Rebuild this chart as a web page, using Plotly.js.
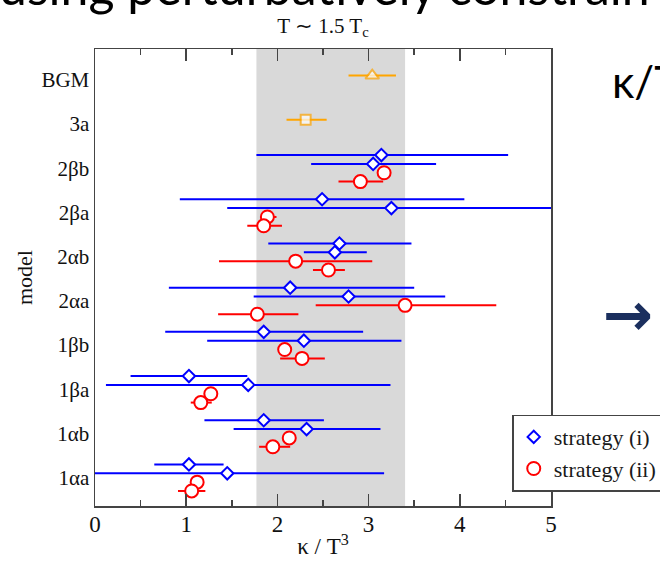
<!DOCTYPE html>
<html>
<head>
<meta charset="utf-8">
<script src="https://cdn.plot.ly/plotly-3.0.1.min.js"></script>
<style>
html,body{margin:0;padding:0;background:#fff;}
#chart{width:660px;height:565px;}
</style>
</head>
<body>
<div id="chart"></div>
<script>
// ---- data ----
const models = ['1αa','1αb','1βa','1βb','2αa','2αb','2βa','2βb','3a','BGM'];

// strategy (i), first fit (upper diamond in each row)
const s1aModels = ['1αa','1αb','1βa','1βb','2αa','2αb','2βa','2βb'];
const s1aVal = [1.03, 1.85, 1.03, 1.85, 2.14, 2.68, 2.49, 3.14];
const s1aLo  = [0.65, 1.20, 0.39, 0.77, 0.81, 1.90, 0.93, 1.77];
const s1aHi  = [1.41, 2.51, 1.67, 2.94, 3.50, 3.47, 4.05, 4.53];

// strategy (i), second fit (lower diamond)
const s1bModels = ['1αa','1αb','1βa','1βb','2αa','2αb','2βa','2βb'];
const s1bVal = [1.45, 2.32, 1.68, 2.29, 2.78, 2.63, 3.25, 3.05];
const s1bLo  = [-0.20, 1.52, 0.12, 1.23, 1.74, 2.29, 1.45, 2.37];
const s1bHi  = [3.17, 3.13, 3.24, 3.36, 3.84, 2.98, 5.30, 3.74];

// strategy (ii), first fit (upper circle)
const s2aModels = ['1αa','1αb','1βa','1βb','2αa','2αb','2βa','2βb'];
const s2aVal = [1.12, 2.13, 1.27, 2.08, 3.40, 2.20, 1.89, 3.17];
const s2aLo  = [1.05, 2.06, 1.20, 2.02, 2.42, 1.36, 1.83, 3.11];
const s2aHi  = [1.18, 2.20, 1.33, 2.14, 4.40, 3.04, 1.99, 3.23];

// strategy (ii), second fit (lower circle)
const s2bModels = ['1αa','1αb','1βa','1βb','2αa','2αb','2βa','2βb'];
const s2bVal = [1.06, 1.95, 1.16, 2.27, 1.78, 2.56, 1.85, 2.91];
const s2bLo  = [0.91, 1.80, 1.05, 2.03, 1.35, 2.39, 1.67, 2.67];
const s2bHi  = [1.21, 2.14, 1.28, 2.52, 2.23, 2.74, 2.05, 3.16];

// reference results
const refModels = ['3a','BGM'];
const refVal = [2.31, 3.04];
const refLo  = [2.10, 2.78];
const refHi  = [2.54, 3.30];

// shaded band
const bandLo = 1.77;
const bandHi = 3.40;

const xTicks = [0, 1, 2, 3, 4, 5];

// ---- build ----
const BLUE = '#0000ff', RED = '#ff0000', ORANGE = '#ffa500';
const serif = 'Liberation Serif, Times New Roman, serif';

function ypos(list, off){ return list.map(m => models.indexOf(m) + off); }
function err(val, lo, hi, color){
  return {type:'data', symmetric:false,
    array: val.map((v,i)=>hi[i]-v), arrayminus: val.map((v,i)=>v-lo[i]),
    color: color, thickness: 2, width: 0};
}
function series(list, val, lo, hi, off, color, symbol, size, name, show, group){
  return {type:'scatter', mode:'markers', x: val, y: ypos(list, off),
    name: name, showlegend: show, legendgroup: group,
    error_x: err(val, lo, hi, color),
    marker: {symbol: symbol, size: size, color: '#ffffff', line: {color: color, width: 2}},
    hoverinfo: 'x+name'};
}

const traces = [
  series(s1aModels, s1aVal, s1aLo, s1aHi, 0.3, BLUE, 'diamond', 9.5, 'strategy (i)', true, 'i'),
  series(s1bModels, s1bVal, s1bLo, s1bHi, 0.1, BLUE, 'diamond', 9.5, 'strategy (i)', false, 'i'),
  series(s2aModels, s2aVal, s2aLo, s2aHi, -0.1, RED, 'circle', 13, 'strategy (ii)', true, 'ii'),
  series(s2bModels, s2bVal, s2bLo, s2bHi, -0.3, RED, 'circle', 13, 'strategy (ii)', false, 'ii'),
  {type:'scatter', mode:'markers', x: refVal, y: ypos(refModels, 0.1),
    showlegend:false, name:'reference',
    error_x: err(refVal, refLo, refHi, ORANGE),
    marker:{symbol:['square','triangle-up'], size:[10,12], color:'#ffffff', line:{color:ORANGE, width:2}}}
];

const layout = {
  width: 660, height: 565,
  margin: {l:95, r:109, t:49, b:59, autoexpand:false},
  paper_bgcolor:'#ffffff', plot_bgcolor:'#ffffff',
  font: {family: serif, color:'#111111'},
  title: {text:'T ∼ 1.5 T<sub>c</sub>', font:{family: serif, size:21, color:'#111'},
          x:0.5, xref:'paper', xanchor:'center', y: 0.955, yref:'container', yanchor:'middle'},
  xaxis: {range:[0,5], tickvals: xTicks, ticktext: xTicks.map(String),
    ticks:'inside', ticklen:12, tickwidth:1.5, tickcolor:'#444',
    minor:{dtick:0.5, tick0:0, ticks:'inside', ticklen:6, tickwidth:1.5, tickcolor:'#444'},
    showline:true, linecolor:'#444', linewidth:1.5, mirror:'ticks',
    showgrid:false, zeroline:false, ticklabelstandoff:-3,
    tickfont:{family:serif, size:23, color:'#111'},
    title:{text:'κ / T<sup>3</sup>', font:{family:serif, size:23, color:'#111'}, standoff:2}},
  yaxis: {range:[-0.64, 9.70], tickvals: models.map((m,i)=>i), ticktext: models,
    ticks:'', showline:true, linecolor:'#444', linewidth:1.5, mirror:true,
    showgrid:false, zeroline:false,
    tickfont:{family:serif, size:21, color:'#111'},
    title:{text:'model', font:{family:serif, size:22, color:'#111'}, standoff:2}},
  shapes: [{type:'rect', xref:'x', yref:'paper', x0:bandLo, x1:bandHi, y0:0, y1:1,
    fillcolor:'#d9d9d9', line:{width:0}, layer:'below'}],
  legend: {x:0.915, y:0.2, xanchor:'left', yanchor:'top', bgcolor:'#ffffff',
    bordercolor:'#444', borderwidth:1.5, traceorder:'grouped', tracegroupgap:0,
    font:{family:serif, size:22, color:'#1a1a1a'}},
  annotations: [
    {text:'using perturbatively constrain', xref:'paper', yref:'paper', x:-0.215, y:1.138,
     xanchor:'left', yanchor:'middle', showarrow:false,
     font:{family:'Lato, Open Sans, sans-serif', size:50, color:'#000'}},
    {text:'κ/T', xref:'paper', yref:'paper', x:1.13, y:0.93,
     xanchor:'left', yanchor:'middle', showarrow:false,
     font:{family:'Lato, Open Sans, sans-serif', size:44, color:'#000'}},
    {text:'<b>→</b>', xref:'paper', yref:'paper', x:1.11, y:0.42,
     xanchor:'left', yanchor:'middle', showarrow:false,
     font:{family:'DejaVu Sans', size:60, color:'#1b2f5e'}}
  ]
};

Plotly.newPlot('chart', traces, layout, {displayModeBar:false, staticPlot:true});
</script>
</body>
</html>
